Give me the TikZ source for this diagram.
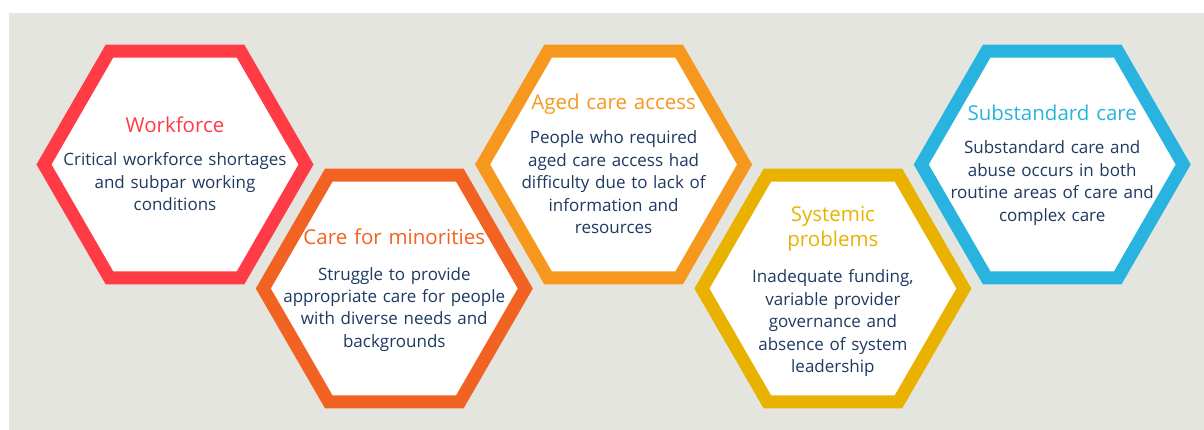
\documentclass[tikz,border=0pt]{standalone}
\usepackage{fontspec}
\setmainfont{Open Sans}
\usetikzlibrary{shapes.geometric}
\definecolor{bgc}{HTML}{E5E5E0}
\definecolor{cred}{HTML}{FF3B45}
\definecolor{corange}{HTML}{F26222}
\definecolor{camber}{HTML}{F7981E}
\definecolor{cgold}{HTML}{E9B200}
\definecolor{cblue}{HTML}{29B4E0}
\definecolor{navy}{HTML}{1F3A60}
\newcommand\titlef{\fontsize{20.5}{25}\selectfont}
\newcommand\bodyf{\fontsize{17}{22.4}\selectfont}
\begin{document}
\begin{tikzpicture}[x=1pt,y=-1pt,
  hexbox/.style={regular polygon, regular polygon sides=6, minimum size=262pt,
    draw=#1, line width=13pt, fill=white, inner sep=0pt, outer sep=0pt},
  ttl/.style={text width=300pt, align=center, anchor=base, inner sep=0pt,
    text=#1, font=\titlef},
  bdy/.style={text width=300pt, align=center, anchor=base, inner sep=0pt,
    text=navy, font=\bodyf}]
\useasboundingbox (0,0) rectangle (1204,430);
\fill[white] (0,0) rectangle (1204,430);
\fill[bgc] (9,13) rectangle (1204,430);
% hexagons
\node[hexbox=cred]    (h1) at (175,164.5) {};
\node[hexbox=corange] (h2) at (394.3,288.5) {};
\node[hexbox=camber]  (h3) at (613.6,164.5) {};
\node[hexbox=cgold]   (h4) at (832.9,288.5) {};
\node[hexbox=cblue]   (h5) at (1052.2,164.5) {};
% titles
\node[ttl=cred]    (tt1) at (175,133) {Workforce};
\node[ttl=corange] (tt2) at (394.3,245) {Care for minorities};
\node[ttl=camber]  (tt3) at (613.6,110) {Aged care access};
\node[ttl=cgold]   (tt4) at (832.9,222) {Systemic\\problems};
\node[ttl=cblue]   (tt5) at (1052.2,121) {Substandard care};
% bodies
\node[bdy] (tb1) at (175,166) {Critical workforce shortages\\and subpar working\\conditions};
\node[bdy] (tb2) at (394.3,280) {Struggle to provide\\appropriate care for people\\with diverse needs and\\backgrounds};
\node[bdy] (tb3) at (613.6,144) {People who required\\aged care access had\\difficulty due to lack of\\information and\\resources};
\node[bdy] (tb4) at (832.9,283) {Inadequate funding,\\variable provider\\governance and\\absence of system\\leadership};
\node[bdy] (tb5) at (1052.2,154) {Substandard care and\\abuse occurs in both\\routine areas of care and\\complex care};
\end{tikzpicture}
\end{document}
